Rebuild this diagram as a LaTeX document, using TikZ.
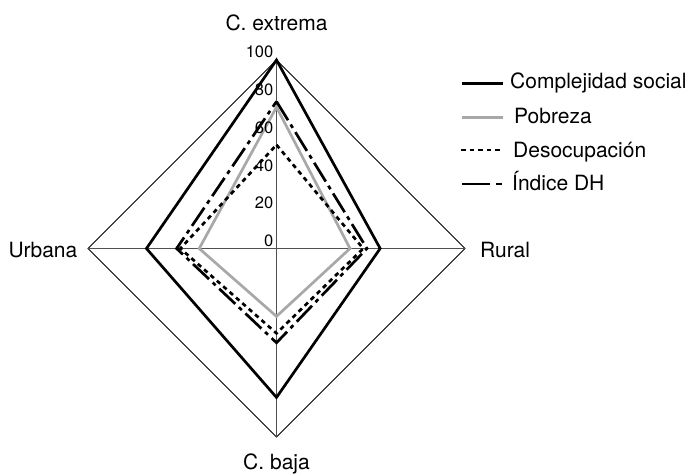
\documentclass[tikz,border=0pt]{standalone}
\usepackage{fontspec}
\setmainfont{TeX Gyre Heros}
\definecolor{pgray}{HTML}{A8A8A8}
\definecolor{axgray}{HTML}{505050}
\tikzset{
  lbl/.style={font=\fontsize{21}{24}\selectfont, inner sep=0pt},
  numlbl/.style={font=\fontsize{16.5}{18}\selectfont, inner sep=0pt, anchor=base east},
  frame/.style={line width=0.8pt, black},
  axisline/.style={line width=0.8pt, axgray},
  complej/.style={line width=2.7pt, black, line join=miter},
  pobreza/.style={line width=2.7pt, pgray, line join=miter},
  desoc/.style={line width=2.7pt, black, dash pattern=on 4.5pt off 4pt, line join=miter},
  indice/.style={line width=2.7pt, black, dash pattern=on 22pt off 5pt on 4pt off 5pt, line join=miter},
}
\begin{document}
\begin{tikzpicture}[x=1pt,y=-1pt]
\useasboundingbox (0,0) rectangle (691,475);
\begin{scope}[shift={(276.5,248.5)}]
\begin{scope}[x=1.885pt,y=1.885pt]
  \coordinate (T) at (0,100);
  \coordinate (R) at (100,0);
  \coordinate (B) at (0,-100);
  \coordinate (L) at (-100,0);
  \draw[frame] (T) -- (R) -- (B) -- (L) -- cycle;
  \draw[axisline] (T) -- (B);
  \draw[axisline] (L) -- (R);
  % data
  \draw[pobreza] (0,75) -- (39,0) -- (0,-36) -- (-41,0) -- cycle;
  \draw[desoc] (0,55) -- (46,0) -- (0,-45) -- (-51,0) -- cycle;
  \draw[indice] (0,78) -- (48,0) -- (0,-50) -- (-53,0) -- cycle;
  \draw[complej] (0,100) -- (55,0) -- (0,-79) -- (-69,0) -- cycle;
\end{scope}
\end{scope}
% tick labels
\foreach \v/\yy in {0/246.5,20/208.8,40/171.1,60/133.4,80/95.7,100/57.5}{
  \node[numlbl] (n\v) at (273.5,\yy) {\v};
}
% axis labels
\node[lbl, anchor=base] (ext) at (276.5,30) {C. extrema};
\node[lbl, anchor=base] (baja) at (276.5,469.5) {C. baja};
\node[lbl, anchor=base east] (urb) at (77.5,257.3) {Urbana};
\node[lbl, anchor=base west] (rur) at (480,257.3) {Rural};
% legend
\coordinate (a1) at (462,83.3); \coordinate (b1) at (503,83.3);
\coordinate (a2) at (462,117.3); \coordinate (b2) at (503,117.3);
\coordinate (a3) at (461,150); \coordinate (b3) at (503,150);
\coordinate (a4) at (462,184); \coordinate (b4) at (490,184);
\coordinate (c4) at (496,184); \coordinate (d4) at (502,184);
\draw[line width=2.7pt, black] (a1) -- (b1);
\draw[line width=2.7pt, pgray] (a2) -- (b2);
\draw[line width=2.7pt, black, dash pattern=on 4.5pt off 4pt] (a3) -- (b3);
\draw[line width=2.7pt, black] (a4) -- (b4);
\draw[line width=2.7pt, black] (c4) -- (d4);
\node[lbl, anchor=base west] (l1) at (510,88.3) {Complejidad social};
\node[lbl, anchor=base west] (l2) at (514,123.3) {Pobreza};
\node[lbl, anchor=base west] (l3) at (513,157.3) {Desocupación};
\node[lbl, anchor=base west] (l4) at (512,190.7) {Índice DH};
\end{tikzpicture}
\end{document}
